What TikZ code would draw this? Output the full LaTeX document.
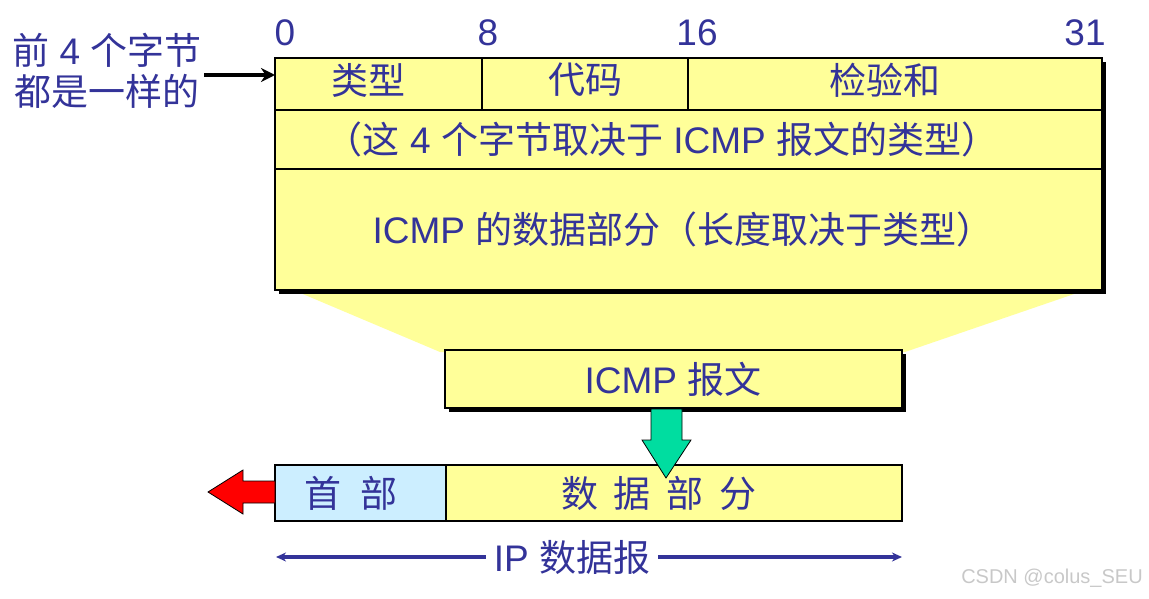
\documentclass[tikz,border=0pt]{standalone}
\usepackage{fontspec}
\setmainfont{Liberation Sans}
\newfontfamily\cjk{Noto Sans CJK SC}
\usetikzlibrary{arrows.meta}
\definecolor{ylw}{HTML}{FFFF99}
\definecolor{navy}{HTML}{333399}
\definecolor{lblue}{HTML}{CCEEFF}
\definecolor{grn}{HTML}{00DDA0}
\definecolor{wm}{HTML}{C8C8C8}
\tikzset{
  lbl/.style={text=navy, font=\fontsize{37}{40}\selectfont, inner sep=0pt},
  cell/.style={draw=black, line width=1.2pt, fill=ylw, anchor=north west, inner sep=0pt, outer sep=0pt},
  shad/.style={fill=black},
  fat/.style={draw=black, line width=0.8pt}
}
\begin{document}
\begin{tikzpicture}[x=1pt,y=-1pt]
\useasboundingbox (0,0) rectangle (1149,599);
% trapezoid
\fill[ylw] (298,292) -- (1080,292) -- (905,352) -- (440,352) -- cycle;
% main box shadow
\fill[shad] (279,62) rectangle (1106,294);
\node[cell, minimum width=827, minimum height=232] (main) at (275,58) {};
\node[cell, minimum width=207, minimum height=52] (c1) at (275,58) {};
\node[cell, minimum width=206, minimum height=52] (c2) at (482,58) {};
\node[cell, minimum width=414, minimum height=52] (c3) at (688,58) {};
\node[cell, minimum width=827, minimum height=59] (r2) at (275,110) {};
\node[cell, minimum width=827, minimum height=121] (r3) at (275,169) {};
\node[lbl] (t1) at (368,80) {\cjk 类型};
\node[lbl] (t2) at (585,80) {\cjk 代码};
\node[lbl] (t3) at (885,80) {\cjk 检验和};
\node[lbl] (t4) at (662,139) {{\cjk （这} 4 {\cjk 个字节取决于} ICMP {\cjk 报文的类型）}};
\node[lbl] (t5) at (683,229) {ICMP {\cjk 的数据部分（长度取决于类型）}};
% bit labels
\node[lbl] (b0) at (285,33) {0};
\node[lbl] (b8) at (488,33) {8};
\node[lbl] (b16) at (697,33) {16};
\node[lbl] (b31) at (1085,33) {31};
% left text
\node[lbl] (l1) at (107,50) {{\cjk 前} 4 {\cjk 个字节}};
\node[lbl] (l2) at (107,91) {\cjk 都是一样的};
\coordinate (la) at (204,75);
\draw[line width=4pt, -{Stealth[length=14pt,width=14pt]}] (la) -- (c1.west |- la);
% ICMP box
\fill[shad] (449,354) rectangle (906,412);
\node[cell, minimum width=457, minimum height=58] (icmp) at (445,350) {};
\node[lbl] (t6) at (673,379) {ICMP {\cjk 报文}};
% bottom box
\node[cell, fill=lblue, minimum width=171, minimum height=56] (hdr) at (275,465) {};
\node[cell, minimum width=456, minimum height=56] (dat) at (446,465) {};
\node[lbl] (t7) at (351,493) {\cjk 首\hspace{20pt}部};
\node[lbl] (t8) at (659,493) {\cjk 数\hspace{16pt}据\hspace{16pt}部\hspace{16pt}分};
% green arrow
\filldraw[fill=grn, fat] (651,409) -- (682,409) -- (682,440) -- (691,440) -- (666,478) -- (642,440) -- (651,440) -- cycle;
% red arrow
\filldraw[fill=red, fat] (hdr.west |- 0,481) -- (243,481) -- (243,470) -- (208,492) -- (243,514) -- (243,503) -- (hdr.west |- 0,503) -- cycle;
% IP arrow
\node[lbl] (ip) at (572,557) {IP {\cjk 数据报}};
\coordinate (ipl) at (276,557);
\coordinate (ipr) at (902,557);
\draw[navy, line width=3.5pt, -{Stealth[length=10pt,width=9pt]}] (ip.west) ++(-8,0) -- (ipl);
\draw[navy, line width=3.5pt, -{Stealth[length=10pt,width=9pt]}] (ip.east) ++(8,0) -- (ipr);
% watermark
\node[text=wm, font=\fontsize{20}{22}\selectfont, inner sep=0pt] (wmk) at (1052,578) {CSDN @colus\_SEU};
\end{tikzpicture}
\end{document}
